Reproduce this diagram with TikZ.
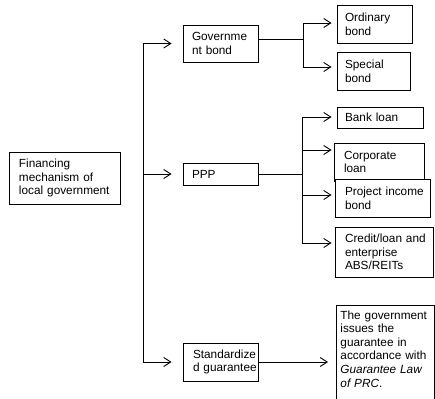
\documentclass[tikz,border=0pt]{standalone}
\usepackage{fontspec}
\setmainfont{Liberation Sans}
\usetikzlibrary{arrows.meta}
% boxes keep their explicit line breaks; no hyphenation inside them
\hyphenpenalty=10000
\exhyphenpenalty=10000
\hfuzz=40pt
\begin{document}
\begin{tikzpicture}[x=1bp,y=-1bp,line width=0.9bp,
  box/.style={draw, rectangle, inner ysep=0pt, align=left,
    font=\fontsize{11.8bp}{13.6bp}\selectfont},
  arr/.style={-{Straight Barb[length=7bp,width=9bp]}},
]
\useasboundingbox (0,0) rectangle (435,398);

% root of the tree
\node[box, inner xsep=10bp, text width=91bp, minimum height=52bp] (root) at (64.5,178)
  {Financing\\mechanism of\\local government};

% first level
\node[box, inner xsep=9bp, text width=57bp, minimum height=37bp] (gb) at (220.5,43.5)
  {Governme\\nt bond};
\node[box, inner xsep=9bp, text width=57bp, minimum height=22bp] (ppp) at (220.5,174)
  {PPP};
\node[box, inner xsep=10bp, text width=55bp, minimum height=38bp] (sg) at (220.5,362)
  {Standardize\\d~guarantee};

% government bond leaves
\node[box, inner xsep=8bp, text width=59bp, minimum height=38bp] (ob) at (374.5,24)
  {Ordinary\\bond};
\node[box, inner xsep=8bp, text width=57bp, minimum height=38bp] (sb) at (373.5,71)
  {Special\\bond};

% PPP leaves
\node[box, inner xsep=8bp, text width=70bp, minimum height=21bp] (bl) at (380,117.5)
  {Bank loan};
\node[box, inner xsep=10bp, text width=70bp, minimum height=38bp] (cl) at (379,162)
  {Corporate\\loan};
\node[box, fill=white, inner xsep=10bp, text width=75bp, minimum height=38bp] (pib) at (382.5,198)
  {Project~income\\bond};
\node[box, inner xsep=10bp, text width=78bp, minimum height=50bp] (cr) at (384,252)
  {Credit/loan~and\\enterprise\\ABS/REITs};

% guarantee leaf, running past the lower edge
\node[box, anchor=north west, inner xsep=4bp, inner ysep=5bp, text width=90bp, text depth=100bp] (gg) at (336,305)
  {The government\\issues the\\guarantee in\\accordance with\\\textit{Guarantee Law}\\\textit{of PRC}.};

% trunk from the root level to the three mechanisms
\coordinate (tr) at (143,0);
\draw (tr |- gb.west) -- (tr |- sg.west);
\foreach \n in {gb,ppp,sg}
  \draw[arr, shorten >=11bp] (tr |- \n.west) -- (\n.west);

% government bond branch
\coordinate (ga) at (303,23);
\coordinate (gj) at (303,39);
\coordinate (gc) at (303,67);
\draw (gj -| gb.east) -- (gj);
\draw (ga) -- (gc);
\draw[arr, shorten >=5bp] (ga) -- (ga -| ob.west);
\draw[arr, shorten >=5bp] (gc) -- (gc -| sb.west);

% PPP branch
\coordinate (p1) at (302,117);
\coordinate (p2) at (302,150);
\coordinate (p3) at (302,195);
\coordinate (p4) at (302,243);
\draw (ppp.east) -- (ppp.east -| p1);
\draw (p1) -- (p4);
\draw[arr, shorten >=5bp] (p1) -- (p1 -| bl.west);
\draw[arr, shorten >=2bp] (p2) -- (p2 -| cl.west);
\draw[arr, shorten >=3bp] (p3) -- (p3 -| pib.west);
\draw[arr, shorten >=3bp] (p4) -- (p4 -| cr.west);

% guarantee branch
\draw[arr, shorten >=8bp] (sg.east) -- (sg.east -| gg.west);
\end{tikzpicture}
\end{document}
